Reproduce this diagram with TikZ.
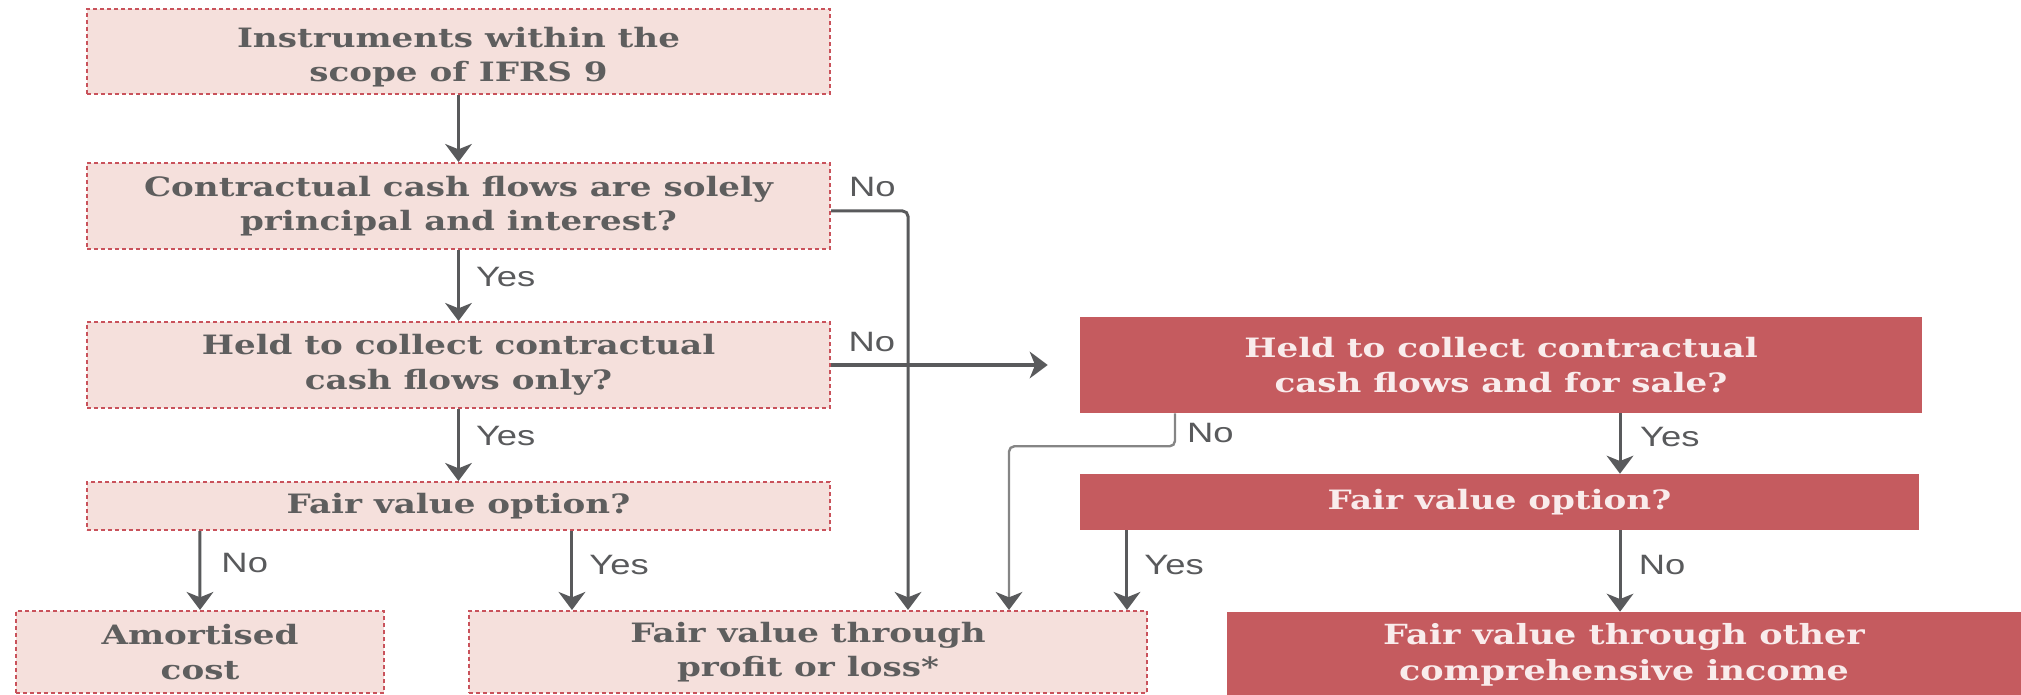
\documentclass[tikz,border=0pt]{standalone}
\usepackage{fontspec}
\usetikzlibrary{arrows.meta,calc}
\newfontfamily\boxfont[FakeStretch=1.28]{DejaVu Serif Bold}
\newfontfamily\bigboxfont[FakeStretch=1.26]{DejaVu Serif Bold}
\newfontfamily\labfont[FakeStretch=1.3]{Liberation Sans}
\definecolor{lightfill}{HTML}{F5E0DC}
\definecolor{boxred}{HTML}{C55B5F}
\definecolor{dotred}{HTML}{C9525B}
\definecolor{txtgrey}{HTML}{5E5E5E}
\definecolor{arrgrey}{HTML}{595A5C}
\definecolor{lightgrey}{HTML}{858585}
\definecolor{paletxt}{HTML}{F9ECEC}
\begin{document}
\begin{tikzpicture}[x=0.75pt,y=-0.75pt,
  sz/.style 2 args={minimum width={#1*0.75pt},minimum height={#2*0.75pt}},
  boxtxt/.style={font=\boxfont\fontsize{20}{26}\selectfont},
  lightbox/.style={draw=dotred, fill=lightfill, line width=1.5pt,
    dash pattern=on 3pt off 2.25pt, inner sep=0pt, align=center,
    text=txtgrey, boxtxt},
  redbox/.style={fill=boxred, draw=none, inner sep=0pt, align=center,
    text=paletxt, boxtxt},
  arr/.style={draw=arrgrey, line width=2.25pt,
    -{Stealth[length=13.5pt,width=20pt,inset=4pt,color=arrgrey]}},
  garr/.style={draw=lightgrey, line width=1.8pt, rounded corners=4pt,
    -{Stealth[length=13.5pt,width=20pt,inset=4pt,color=arrgrey]}},
  lab/.style={font=\labfont\fontsize{21}{22}\selectfont, text=arrgrey,
    anchor=west, inner sep=0pt}
]
\useasboundingbox (0,0) rectangle (2021,695);

% boxes
\node[lightbox, sz={743}{85}, inner ysep=0pt, text depth=0pt] (b1) at (458.5,51.5) {\raisebox{9pt}{\parbox{20em}{\centering Instruments within the\\scope of IFRS 9}}};
\node[lightbox, sz={743}{86}] (b2) at (458.5,206) {Contractual cash flows are solely\\principal and interest?};
\node[lightbox, sz={743}{86}] (b3) at (458.5,365) {Held to collect contractual\\cash flows only?};
\node[lightbox, sz={743}{48}] (b4) at (458.5,506) {Fair value option?};
\node[lightbox, sz={368}{82}] (b5) at (200,652) {Amortised\\cost};
\node[lightbox, sz={678}{82}] (b6) at (808,652) {Fair value through\\profit or loss*};
\node[redbox, sz={842}{96}] (b7) at (1501,365) {Held to collect contractual\\cash flows and for sale?};
\node[redbox, sz={839}{56}] (b8) at (1499.5,502) {Fair value option?};
\node[redbox, sz={794}{86}, font=\bigboxfont\fontsize{20.8}{27}\selectfont] (b9) at (1624,655) {Fair value through other\\comprehensive income};

% connectors
\draw[arr] (b1.south) -- (b2.north);
\draw[arr] (b2.south) -- node[lab, pos=0.38, xshift=12pt] {Yes} (b3.north);
\draw[arr] (b3.south) -- node[lab, pos=0.37, xshift=12pt] {Yes} (b4.north);
\draw[arr] ([xshift=-193.9pt]b4.south) -- node[lab, pos=0.41, xshift=15pt] {No} (b5.north);
\draw[arr] ([xshift=85.1pt]b4.south) -- node[lab, pos=0.43, xshift=12pt] {Yes} ([xshift=85.1pt]b4.south |- b6.north);
\draw[arr, rounded corners=4pt] ([yshift=-3.75pt]b2.east) node[lab, xshift=12.5pt, yshift=18pt] {No}
   -| ([xshift=75pt]b6.north);
\draw[arr] (b3.east) node[lab, xshift=12pt, yshift=17.25pt] {No} -- ([xshift=-24pt]b7.west);
\draw[garr] ([xshift=-244.5pt]b7.south) node[lab, xshift=8.25pt, yshift=-15pt] {No}
   -- ++(0,33) -| ([xshift=150.75pt]b6.north);
\draw[arr] ([xshift=89.25pt]b7.south) -- node[lab, pos=0.39, xshift=14pt] {Yes} ([xshift=89.25pt]b7.south |- b8.north);
\draw[arr] ([xshift=-279.4pt]b8.south) -- node[lab, pos=0.43, xshift=12pt] {Yes} ([xshift=-279.4pt]b8.south |- b6.north);
\draw[arr] ([xshift=90.4pt]b8.south) -- node[lab, pos=0.43, xshift=13pt] {No} ([xshift=90.4pt]b8.south |- b9.north);
\end{tikzpicture}
\end{document}
